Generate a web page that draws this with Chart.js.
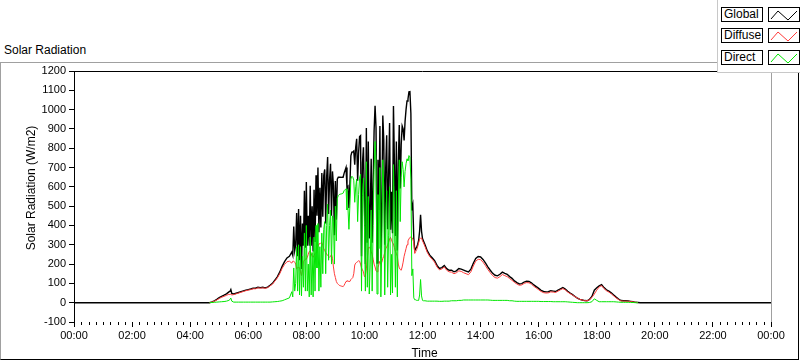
<!DOCTYPE html>
<html><head><meta charset="utf-8">
<script src="https://cdn.jsdelivr.net/npm/chart.js@4/dist/chart.umd.min.js"></script>
<style>
html,body{margin:0;padding:0;background:#fff;}
body{width:800px;height:361px;position:relative;overflow:hidden;font-family:"Liberation Sans",Arial,sans-serif;color:#000}
#frame{position:absolute;left:0;top:62px;width:799px;height:298px;border-top:1px solid #a0a0a0;border-left:1px solid #a0a0a0;border-right:1px solid #000;border-bottom:1px solid #000;box-sizing:border-box}
#title{position:absolute;left:4px;top:43px;font-size:12px;line-height:14px;white-space:nowrap}
#chartbox{position:absolute;left:0;top:0;width:800px;height:361px}
#legend{position:absolute;left:717px;top:0;width:83px;height:73px;background:#fff;border-left:1px solid #c8c8c8;border-bottom:1px solid #c8c8c8;box-sizing:border-box}
.row{position:absolute;left:3px;width:80px;height:15px}
.lbl{position:absolute;left:0;top:0;width:42px;height:15px;border:1px solid #000;box-sizing:border-box;font-size:12px;line-height:13px;padding-left:2px;white-space:nowrap}
.ico{position:absolute;left:47px;top:0;width:32px;height:15px;border:1px solid #000;box-sizing:border-box}
.ico svg{position:absolute;left:0;top:0}
</style>
</head>
<body>
<div id="frame"></div>
<div id="title">Solar Radiation</div>
<div id="chartbox"><canvas id="c" width="800" height="361"></canvas></div>
<div id="legend"></div>
<script>
// ---- DATA (minutes since midnight) ----
const minutes = [0,
280,285,290,295,300,305,310,315,320,322,324,326,330,335,340,345,350,355,360,365,370,375,380,385,390,395,400,405,410,415,420,425,430,435,440,445,450,
452,454,456,458,460,462,464,466,468,470,472,474,476,478,480,482,484,486,488,490,492,494,496,498,500,502,504,506,508,510,512,514,516,518,520,522,524,526,528,530,532,534,536,538,540,542,544,546,548,550,552,554,556,558,560,562,564,566,568,570,572,574,576,578,580,582,584,586,588,590,592,594,596,598,600,602,604,606,608,610,612,614,616,618,620,622,624,626,628,630,632,634,636,638,640,642,644,646,648,650,652,654,656,658,660,662,664,666,668,670,672,674,676,678,680,682,684,686,688,690,692,694,696,698,700,702,704,706,708,
710,712,714,716,718,720,722,725,730,735,740,745,750,755,760,765,770,775,780,785,790,795,800,805,810,815,820,825,830,835,840,845,850,855,860,865,870,875,880,885,890,895,900,905,910,915,920,925,930,935,940,945,950,955,960,965,970,975,980,985,990,995,1000,1005,1010,1015,1020,1025,1030,1035,1040,1045,1050,1055,1060,1065,1070,1075,1080,1085,1090,1095,1100,1105,1110,1115,1120,1125,1130,1135,1140,1145,1150,1155,1160,1165,
1170,1440];

const globalRad = [0,
0,4,10,17,26,33,39,46,56,58,68,48,45,49,53,57,61,65,68,71,75,75,80,78,80,77,81,90,100,117,134,158,188,213,232,240,262,
245,395,270,300,465,240,485,220,450,175,410,295,580,285,625,295,450,295,605,295,500,265,585,315,660,450,700,365,595,390,672,445,660,690,410,652,755,460,635,720,450,680,605,350,630,430,640,650,650,650,649,650,650,670,685,700,594,602,490,615,760,780,780,785,715,805,849,632,778,860,865,240,725,805,535,200,905,310,835,332,480,745,310,625,890,1020,905,205,740,480,915,230,500,970,840,300,700,867,380,662,930,378,575,360,1019,725,345,835,270,720,920,592,818,915,900,840,940,1000,1045,1055,1092,1093,980,478,505,335,270,280,287,
302,322,370,455,370,332,320,302,268,246,233,218,193,177,182,193,176,168,168,160,165,177,174,169,164,159,174,204,229,239,237,224,206,186,168,152,142,139,147,158,152,147,135,126,113,104,97,99,107,111,110,103,92,83,74,64,58,56,57,62,60,58,65,72,78,71,59,50,42,32,24,17,14,11,10,17,32,65,77,87,93,78,67,60,51,40,29,19,11,10,10,9,7,5,2,1,
0,0];

const diffuseRad = [null,
0,3,8,14,22,28,33,38,44,42,44,40,42,46,50,54,58,62,65,68,72,72,77,75,77,74,78,87,96,112,128,150,178,198,212,215,205,
215,215,210,200,175,180,185,180,160,140,170,215,220,225,225,235,250,265,265,255,240,235,245,255,260,270,290,305,305,310,312,295,280,270,260,252,245,240,235,240,250,230,185,150,130,110,100,95,90,88,86,85,83,90,100,110,114,112,110,110,120,125,130,150,195,205,209,212,218,215,200,180,170,160,135,140,175,230,285,287,280,265,250,225,200,185,165,160,180,200,215,200,210,230,240,260,280,287,300,312,330,338,325,310,304,285,265,255,240,200,180,172,168,185,210,240,260,280,300,320,330,338,340,338,330,310,255,265,275,
290,310,330,335,335,320,310,292,260,238,225,210,185,170,175,185,168,160,158,150,155,165,162,155,150,145,160,190,215,225,223,210,192,172,155,140,130,127,135,146,140,135,125,116,105,97,90,92,100,104,103,96,85,76,67,58,52,50,51,56,55,53,60,67,73,66,55,47,40,31,24,17,14,11,10,16,27,45,65,82,88,73,62,55,46,35,25,16,9,8,8,7,6,4,2,1,
null,null];

const directRad = [null,
0,1,2,3,4,5,6,8,12,16,24,8,3,3,3,3,3,3,3,3,3,3,3,3,3,3,3,3,4,5,6,8,10,15,20,25,57,
30,180,60,100,290,60,300,40,290,35,240,80,360,60,400,60,200,30,340,40,260,30,340,60,400,180,410,60,290,80,360,150,380,420,150,400,510,220,400,480,200,450,420,200,500,320,540,555,560,562,563,565,567,580,585,590,480,490,380,505,640,655,650,635,520,600,640,420,560,645,665,60,555,645,400,60,730,80,550,45,200,480,60,400,690,835,740,45,560,280,700,30,290,740,600,40,420,580,80,350,600,40,250,50,715,440,80,580,30,520,740,420,650,730,690,600,680,720,745,735,762,755,640,140,175,25,15,15,12,
12,12,40,120,35,12,10,10,8,8,8,8,8,7,7,8,8,8,10,10,10,12,12,14,14,14,14,14,14,14,14,14,14,14,13,12,12,12,12,12,12,12,10,10,8,7,7,7,7,7,7,7,7,7,7,6,6,6,6,6,5,5,5,5,5,5,4,3,2,1,0,0,0,0,0,1,5,20,12,5,5,5,5,5,5,5,4,3,2,2,2,2,1,1,0,0,
null,null];

const xTickLabels = ['00:00','02:00','04:00','06:00','08:00','10:00','12:00','14:00','16:00','18:00','20:00','22:00','00:00'];
const seriesNames = ['Global','Diffuse','Direct'];
const seriesColors = ['#000000','#ff3a3a','#00e600'];
const yAxisTitle = 'Solar Radiation (W/m2)';
const xAxisTitle = 'Time';

// ---- legend (HTML) ----
const legend = document.getElementById('legend');
const rowTops = [7, 28, 50];
seriesNames.forEach((n, i) => {
  const r = document.createElement('div');
  r.className = 'row';
  r.style.top = rowTops[i] + 'px';
  r.innerHTML = '<div class="lbl">' + n + '</div><div class="ico"><svg width="32" height="15"><polyline points="2,11 9,3 19,12 28,3" fill="none" stroke="' + seriesColors[i] + '" stroke-width="1"/></svg></div>';
  legend.appendChild(r);
});

const pts = arr => minutes.map((m, i) => ({x: m, y: arr[i]}));

const decor = {
  id: 'decor',
  afterDraw(chart) {
    const {ctx, chartArea: a, scales: {x, y}} = chart;
    ctx.save();
    ctx.lineWidth = 1;
    ctx.strokeStyle = '#000';
    ctx.beginPath();
    ctx.moveTo(a.left, a.top + 0.5); ctx.lineTo(a.right, a.top + 0.5);
    ctx.stroke();
    ctx.strokeStyle = '#a0a0a0';
    ctx.beginPath();
    ctx.moveTo(Math.round(a.right) + 0.5, a.top); ctx.lineTo(Math.round(a.right) + 0.5, a.bottom);
    ctx.stroke();
    ctx.strokeStyle = '#000';
    ctx.beginPath();
    for (let m = 0; m <= 1440; m += 15) {
      if (m % 120 === 0) continue;
      const px = Math.round(x.getPixelForValue(m)) + 0.5;
      ctx.moveTo(px, a.bottom); ctx.lineTo(px, a.bottom + 3);
    }
    ctx.stroke();
    ctx.fillStyle = '#000';
    ctx.font = '12px "Liberation Sans", Arial, sans-serif';
    ctx.textAlign = 'center';
    ctx.textBaseline = 'middle';
    ctx.fillText(xAxisTitle, (a.left + a.right) / 2 + 2, 354);
    ctx.translate(32, 188);
    ctx.rotate(-Math.PI / 2);
    ctx.fillText(yAxisTitle, 0, 0);
    ctx.restore();
  }
};

const mk = (arr, i, order, w) => ({
  label: seriesNames[i], data: pts(arr), borderColor: seriesColors[i],
  borderWidth: w, pointRadius: 0, tension: 0, spanGaps: false, order: order
});

new Chart(document.getElementById('c'), {
  type: 'line',
  data: { datasets: [mk(globalRad, 0, 3, 1.4), mk(diffuseRad, 1, 2, 1), mk(directRad, 2, 1, 1)] },
  options: {
    responsive: false, animation: false,
    layout: { padding: { left: 0, top: 71, right: 29, bottom: 0 } },
    plugins: { legend: { display: false }, tooltip: { enabled: false } },
    scales: {
      x: {
        type: 'linear', min: 0, max: 1440,
        afterFit: s => { s.height = 39; },
        border: { display: false },
        grid: { drawOnChartArea: false, drawTicks: true, tickLength: 5, color: '#000' },
        ticks: { stepSize: 120, autoSkip: false, maxRotation: 0, padding: 2, color: '#000',
          font: { family: 'Liberation Sans', size: 11 },
          callback: v => xTickLabels[Math.round(v / 120)] }
      },
      y: {
        min: -100, max: 1200,
        afterFit: s => { s.width = 74; },
        border: { display: true, color: '#000' },
        grid: { drawOnChartArea: false, drawTicks: true, tickLength: 5, color: '#000' },
        ticks: { stepSize: 100, padding: 3, color: '#000', font: { family: 'Liberation Sans', size: 11 },
          callback: v => String(v) }
      }
    }
  },
  plugins: [decor]
});
</script>
</body></html>
